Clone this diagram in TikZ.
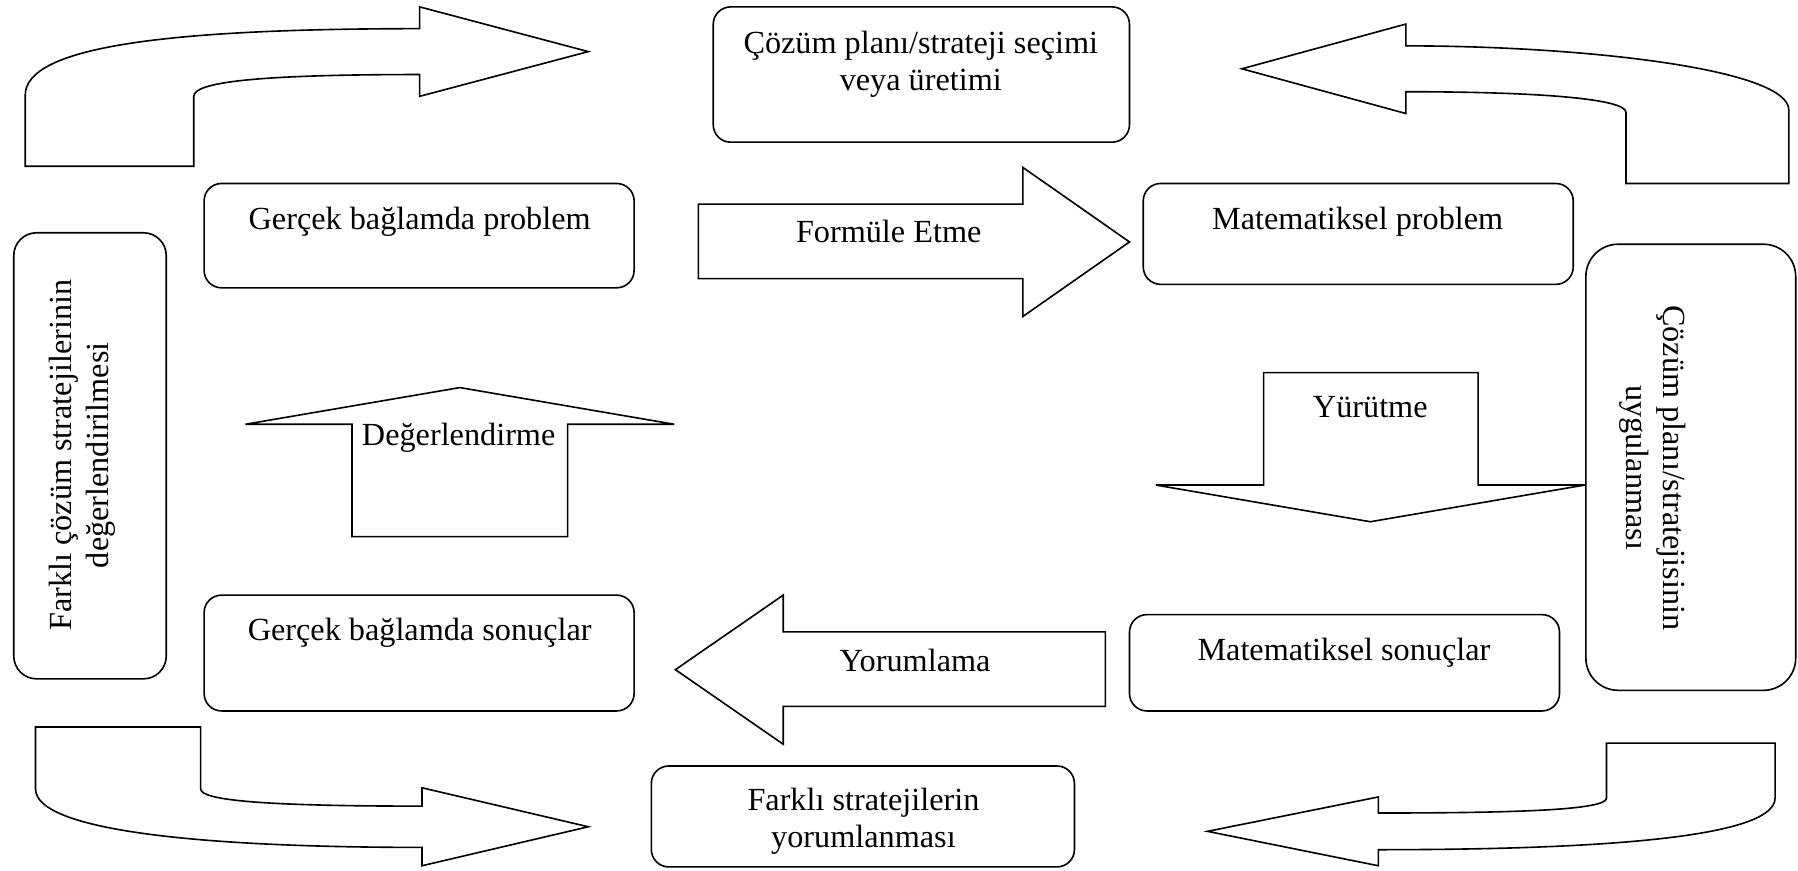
\documentclass[tikz,border=0pt]{standalone}
\usepackage{fontspec}
\setmainfont{Liberation Serif}
\usetikzlibrary{fit}
\tikzstyle{stepbox} = [draw, rectangle, black, semithick, rounded corners=6.5pt, inner sep=0pt]
\tikzstyle{blockarrow} = [draw, black, semithick, line join=miter]
\tikzstyle{steptext} = [black, inner sep=0pt, align=center, font=\fontsize{12}{13.8}\selectfont]

\begin{document}
\begin{tikzpicture}[x=0.015cm, y=-0.015cm]
            \useasboundingbox (0,0) rectangle (1568,759);

            % Defining nodes
            \node[stepbox, fit={(622,6) (985,124)}] (Secim) {};
            \node[stepbox, fit={(178,160) (553,251)}] (GProblem) {};
            \node[stepbox, fit={(997,160) (1372,248)}] (MProblem) {};
            \node[stepbox, fit={(178,519) (553,620)}] (GSonuc) {};
            \node[stepbox, fit={(985,536) (1360,620)}] (MSonuc) {};
            \node[stepbox, fit={(568,668) (937,756)}] (Yorumlar) {};
            \node[stepbox, rounded corners=8.5pt, fit={(12,203) (145,592)}] (Degerler) {};
            \node[stepbox, rounded corners=12pt, fit={(1383,213) (1566,602)}] (Uygulama) {};

            \node[steptext] (SecimText) at (803,56) {Çözüm planı/strateji seçimi\\veya üretimi};
            \node[steptext] (GProblemText) at (366,193) {Gerçek bağlamda problem};
            \node[steptext] (MProblemText) at (1184,193) {Matematiksel problem};
            \node[steptext] (GSonucText) at (366,552) {Gerçek bağlamda sonuçlar};
            \node[steptext] (MSonucText) at (1172,569) {Matematiksel sonuçlar};
            \node[steptext] (YorumlarText) at (753,716) {Farklı stratejilerin\\yorumlanması};
            \node[steptext, rotate=90] (DegerlerText) at (72,397) {Farklı çözüm stratejilerinin\\değerlendirilmesi};
            \node[steptext, rotate=-90] (UygulamaText) at (1441,408) {Çözüm planı/stratejisinin\\uygulanması};

            % Drawing diagram
            \draw[blockarrow] (609,178) -- (892,178) -- (892,146) -- (985,211) -- (892,276) -- (892,243) -- (609,243) -- cycle;
            \node[steptext] (Formule) at (775,202) {Formüle Etme};

            \draw[blockarrow] (1102,325) -- (1289,325) -- (1289,423) -- (1382,423) -- (1195,455) -- (1008,423) -- (1102,423) -- cycle;
            \node[steptext] (Yurutme) at (1195,355) {Yürütme};

            \draw[blockarrow] (964,551) -- (683,551) -- (683,519) -- (589,584) -- (683,649) -- (683,616) -- (964,616) -- cycle;
            \node[steptext] (Yorumlama) at (798,576) {Yorumlama};

            \draw[blockarrow] (307,468) -- (307,370) -- (214,370) -- (401,338) -- (588,370) -- (495,370) -- (495,468) -- cycle;
            \node[steptext] (Degerlendirme) at (400,382) {Değerlendirme};

            % Bent arrows in the corners
            \draw[blockarrow] (22,145) -- (22,83) .. controls (22,40) and (150,25) .. (366,25) -- (366,6) -- (513,45) -- (366,84) -- (366,65) .. controls (220,65) and (169,72) .. (169,84) -- (169,145) -- cycle;
            \draw[blockarrow] (1226,40) .. controls (1380,40) and (1560,60) .. (1560,96) -- (1560,160) -- (1418,160) -- (1418,98) .. controls (1418,86) and (1340,80) .. (1226,80) -- (1226,99) -- (1083,60) -- (1226,21) -- cycle;
            \draw[blockarrow] (31,634) -- (175,634) -- (175,688) .. controls (175,698) and (230,703) .. (368,703) -- (368,687) -- (513,721) -- (368,755) -- (368,739) .. controls (180,739) and (31,725) .. (31,688) -- cycle;
            \draw[blockarrow] (1401,648) -- (1548,648) -- (1548,696) .. controls (1548,730) and (1400,741) .. (1202,741) -- (1202,755) -- (1053,725) -- (1202,695) -- (1202,709) .. controls (1330,709) and (1401,706) .. (1401,696) -- cycle;
        \end{tikzpicture}
\end{document}
